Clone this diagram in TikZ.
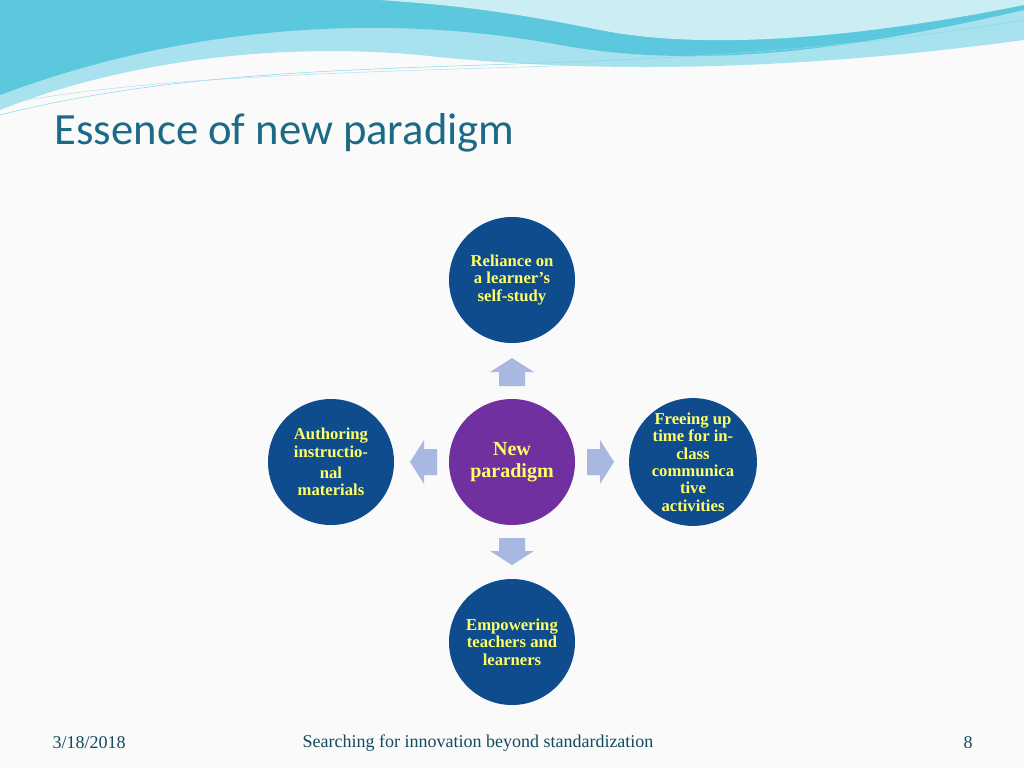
\documentclass[tikz,border=0pt]{standalone}
\usepackage{fontspec}
\setmainfont{Liberation Serif}
\newfontfamily\titlefont{Carlito}
\definecolor{cblue}{HTML}{0E4C8E}
\definecolor{cpurple}{HTML}{7030A0}
\definecolor{ctext}{HTML}{FFFF66}
\definecolor{carrow}{HTML}{A9B8E0}
\definecolor{ctitle}{HTML}{1B6A86}
\definecolor{wave1}{HTML}{5CC8DE}
\definecolor{wave2}{HTML}{A8E2EE}
\begin{document}
\begin{tikzpicture}[x=0.75pt,y=-0.75pt,
  circ/.style={circle,minimum size=126*0.75pt,inner sep=0pt,fill=cblue,text=ctext,font=\bfseries\fontsize{12.5}{13}\selectfont,align=center},
  barrow/.style={fill=carrow,draw=none}]
\fill[white!96!gray] (0,0) rectangle (1024,768);
\useasboundingbox (0,0) rectangle (1024,768);
% top waves
\fill[wave2] (0,0) -- (1024,0) -- (1024,40) .. controls (800,70) and (600,75) .. (420,55) .. controls (250,40) and (100,70) .. (0,110) -- cycle;
\fill[wave1] (0,0) -- (1024,0) -- (1024,10) .. controls (850,50) and (700,70) .. (560,45) .. controls (400,15) and (200,20) .. (0,95) -- cycle;
\fill[wave2!60!white] (380,0) -- (1024,0) -- (1024,5) .. controls (850,40) and (700,50) .. (600,30) .. controls (500,10) and (450,5) .. (380,0) -- cycle;
\draw[wave1!70!white] (0,115) .. controls (300,40) and (600,90) .. (1024,20);
\draw[wave1!50!white] (0,105) .. controls (250,55) and (700,80) .. (1024,35);
% title
\node[anchor=west,text=ctitle,font=\titlefont\fontsize{33.5}{38}\selectfont] (title) at (50,133) {Essence of new paradigm};
% circles
\node[circ] (top) at (512,280) {Reliance on\\a learner's\\self-study};
\node[circ,fill=cpurple,font=\bfseries\fontsize{15}{16}\selectfont] (mid) at (512,462) {New\\paradigm};
\node[circ] (left) at (331,462) {Authoring\\instructio-\\[3pt]nal\\materials};
\node[circ] (right) at (693,462) {Freeing up\\time for in-\\class\\communica\\tive\\activities};
\node[circ] (bot) at (512,642) {Empowering\\teachers and\\learners};
% block arrows
\fill[barrow] (512,358) -- (534,372) -- (525,372) -- (525,386) -- (499,386) -- (499,372) -- (490,372) -- cycle;
\fill[barrow] (512,565) -- (534,551) -- (525,551) -- (525,538) -- (499,538) -- (499,551) -- (490,551) -- cycle;
\fill[barrow] (410,462) -- (424,440) -- (424,449) -- (437,449) -- (437,475) -- (424,475) -- (424,484) -- cycle;
\fill[barrow] (614,462) -- (600,440) -- (600,449) -- (587,449) -- (587,475) -- (600,475) -- (600,484) -- cycle;
% footer
\node[anchor=west,text=ctitle!70!black,font=\fontsize{13.5}{15}\selectfont] (date) at (48,743) {3/18/2018};
\node[text=ctitle!70!black,font=\fontsize{13.5}{15}\selectfont] (foot) at (478,743) {Searching for innovation beyond standardization};
\node[text=ctitle!70!black,font=\fontsize{13.5}{15}\selectfont] (page) at (968,743) {8};
\end{tikzpicture}
\end{document}
